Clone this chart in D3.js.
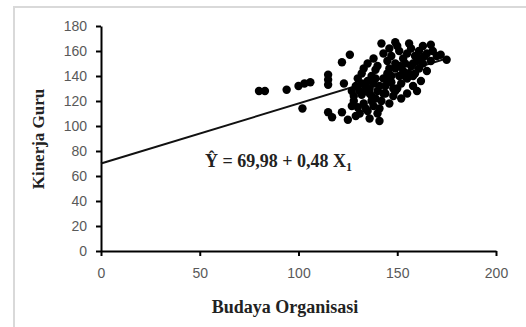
<!DOCTYPE HTML>
<html lang="id">
<head>
<meta charset="utf-8">
<title>Budaya Organisasi vs Kinerja Guru</title>
<style>
html, body {
    margin: 0;
    padding: 0;
    background: #fff;
 }
svg { display: block; }
.tick text {
    font: 14px "Liberation Sans", Arial, sans-serif;
    fill: #595959;
 }
.axis path, .axis line {
    stroke: #000;
    stroke-width: 2;
 }
.title {
    font: bold 17px "Liberation Serif", "Times New Roman", serif;
    fill: #222;
 }
.big { font-size: 18px; }
</style>
</head>
<body>
<script src="https://cdn.jsdelivr.net/npm/d3@7"></script>
<script>
(function() {
  'use strict';

// Data
const budaya = [80, 83, 94, 100, 103, 106, 102,
  115, 115, 115, 115, 117, 122, 125, 123, 122, 126,
  128, 130, 131, 133, 135, 136, 138, 140, 141, 139, 132, 127, 129, 134, 137, 142, 144, 146, 148, 150, 152, 155, 158, 160, 162,
  130, 132, 135, 137, 139, 141, 143, 145, 147, 149, 151, 153, 155, 157, 159, 161, 163, 165, 167, 136, 140, 144, 148, 152, 156,
  135, 138, 140, 143, 145, 147, 149, 151, 153, 155, 157, 159, 161, 163, 165, 168, 170, 146, 150, 142, 149, 156, 167, 172, 175,
  133, 131, 128, 134, 138, 146, 154, 160, 162, 158,
  129, 134, 137, 141, 136, 143, 147, 151, 139, 145, 149, 154, 158, 164, 132, 127];
const kinerja = [128, 128, 129, 132, 134, 135, 114,
  141, 137, 133, 111, 107, 111, 105, 134, 151, 157,
  120, 115, 110, 118, 112, 106, 116, 110, 104, 122, 125, 128, 132, 128, 124, 120, 126, 118, 124, 130, 122, 126, 132, 128, 136,
  138, 142, 136, 140, 145, 132, 138, 142, 135, 146, 140, 144, 138, 148, 142, 146, 150, 144, 152, 130, 128, 132, 130, 134, 142,
  150, 154, 148, 158, 152, 156, 150, 160, 154, 158, 162, 156, 160, 164, 158, 160, 156, 162, 164, 166, 167, 166, 165, 157, 153,
  146, 128, 124, 132, 134, 146, 150, 152, 154, 150,
  108, 114, 120, 114, 126, 126, 140, 148, 138, 136, 128, 140, 140, 156, 134, 116];
const xTicks = [0, 50, 100, 150, 200];
const yTicks = [0, 20, 40, 60, 80, 100, 120, 140, 160, 180];
const intercept = 69.98;
const slope = 0.48;

const width = 526, height = 327;

const svg = d3.select('body').append('svg')
  .attr('width', width)
  .attr('height', height);

// light frame round the chart
svg.append('rect')
  .attr('x', 14).attr('y', 7)
  .attr('width', width).attr('height', height)
  .attr('fill', '#fff')
  .attr('stroke', '#d9d9d9')
  .attr('stroke-width', 2);

const x = d3.scaleLinear().domain([0, 200]).range([101, 496]);
const y = d3.scaleLinear().domain([0, 180]).range([251, 26]);

svg.append('g')
  .attr('class', 'axis')
  .attr('transform', 'translate(0,' + y(0) + ')')
  .call(d3.axisBottom(x).tickValues(xTicks).tickSize(5).tickPadding(12).tickSizeOuter(0));

svg.append('g')
  .attr('class', 'axis')
  .attr('transform', 'translate(' + x(0) + ',0)')
  .call(d3.axisLeft(y).tickValues(yTicks).tickSize(5).tickPadding(9).tickSizeOuter(0));

// regression line
const xMax = d3.max(budaya);
svg.append('line')
  .attr('x1', x(0)).attr('y1', y(intercept))
  .attr('x2', x(xMax)).attr('y2', y(intercept + slope * xMax))
  .attr('stroke', '#111')
  .attr('stroke-width', 2);

// points
svg.append('g').selectAll('circle')
  .data(budaya)
  .enter()
  .append('circle')
  .attr('cx', d => x(d))
  .attr('cy', (d, i) => y(kinerja[i]))
  .attr('r', 4.2)
  .attr('fill', '#000');

// equation
const eq = svg.append('text')
  .attr('class', 'title big')
  .attr('x', 205).attr('y', 167);
eq.append('tspan').text('Ŷ = 69,98 + 0,48 X');
eq.append('tspan').style('font-size', '12px').attr('dy', 4).text('1');

// axis titles
svg.append('text')
  .attr('class', 'title big')
  .attr('text-anchor', 'middle')
  .attr('x', 285).attr('y', 313)
  .text('Budaya Organisasi');

svg.append('text')
  .attr('class', 'title')
  .attr('text-anchor', 'middle')
  .attr('transform', 'translate(44,139) rotate(-90)')
  .text('Kinerja Guru');
}());
</script>
</body>
</html>
